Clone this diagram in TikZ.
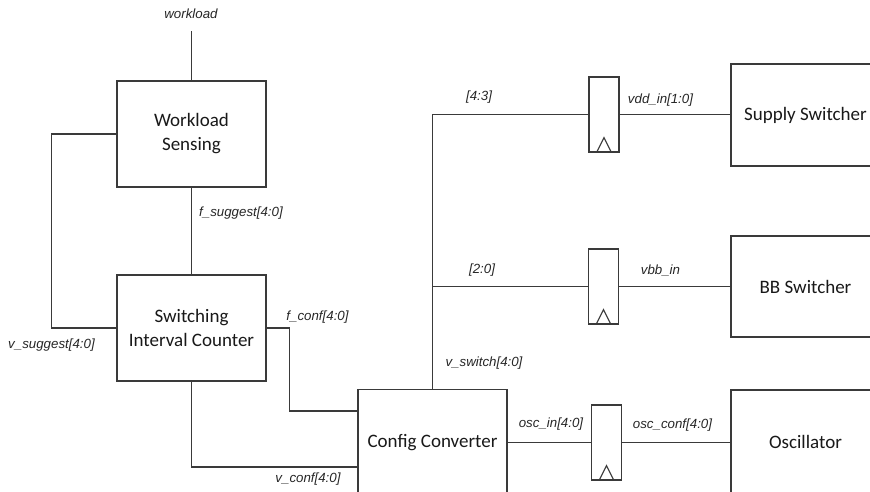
\documentclass[tikz,border=0pt]{standalone}
\usepackage{fontspec}
\setmainfont{Carlito}
\newfontfamily\lblfont{Liberation Sans}
\usetikzlibrary{calc}
\definecolor{wirec}{HTML}{3A3A3A}
\tikzset{
  blk/.style={draw=wirec, line width=1.3pt, fill=white, minimum width=149pt, minimum height=106pt, inner sep=0pt, align=center, font=\fontsize{19}{24}\selectfont, text=black!90},
  reg/.style={draw=wirec, line width=1.3pt, fill=white, minimum width=30pt, minimum height=75pt, inner sep=0pt},
  wire/.style={draw=wirec, line width=1.3pt},
  lbl/.style={font=\lblfont\itshape\fontsize{13.3}{15}\selectfont, text=black!85, inner sep=0pt}
}
\begin{document}
\begin{tikzpicture}[x=1pt,y=-1pt]
\useasboundingbox (0,0) rectangle (870,491);
% blocks
\node[blk] (ws) at (191.5,134) {Workload\\Sensing};
\node[blk] (sic) at (191.5,328) {Switching\\Interval Counter};
\node[blk] (cc) at (432.5,442.5) {Config Converter};
\node[blk, minimum height=102pt] (ss) at (805.5,115) {Supply Switcher};
\node[blk, minimum height=101pt] (bb) at (805.5,286.5) {BB Switcher};
\node[blk, minimum height=104pt] (osc) at (805.5,442) {Oscillator};
% registers
\node[reg] (r1) at (604,114.5) {};
\node[reg] (r2) at (603.5,286.5) {};
\node[reg] (r3) at (606.5,442.5) {};
\foreach \r in {r1,r2,r3}{
  \draw[wire, line width=1.1pt] ($(\r.south)+(-7.5,0)$) -- ($(\r.south)+(0,-15)$) -- ($(\r.south)+(7.5,0)$);
}
% wires
\coordinate (wl) at (191.5,31);
\draw[wire] (wl) -- (ws.north);
\draw[wire] (ws.south) -- (sic.north);
\draw[wire] (ws.west) -- ++(-65,0) |- (sic.west);
\draw[wire] (sic.east) -- ++(23,0) |- ($(cc.north west)+(0,22)$);
\draw[wire] (sic.south) |- ($(cc.north west)+(0,78)$);
\draw[wire] (cc.north) -- (cc.north |- r1.west) -- (r1.west);
\draw[wire] (cc.north |- r2.west) -- (r2.west);
\draw[wire] (cc.east) -- (cc.east -| r3.west);
\draw[wire] (r1.east) -- (ss.west |- r1.east);
\draw[wire] (r2.east) -- (bb.west |- r2.east);
\draw[wire] (r3.east) -- (osc.west |- r3.east);
% labels
\node[lbl] (l1) at (191,14) {workload};
\node[lbl, anchor=west] (l2) at (199,213) {f\_suggest[4:0]};
\node[lbl] (l3) at (51.5,345) {v\_suggest[4:0]};
\node[lbl] (l4) at (317.5,317) {f\_conf[4:0]};
\node[lbl] (l5) at (308,479) {v\_conf[4:0]};
\node[lbl] (l6) at (479,97) {[4:3]};
\node[lbl] (l7) at (482,270) {[2:0]};
\node[lbl] (l8) at (484,363) {v\_switch[4:0]};
\node[lbl] (l9) at (551,424) {osc\_in[4:0]};
\node[lbl] (l10) at (660.5,100) {vdd\_in[1:0]};
\node[lbl] (l11) at (660.5,270) {vbb\_in};
\node[lbl] (l12) at (672.5,425) {osc\_conf[4:0]};
\end{tikzpicture}
\end{document}
